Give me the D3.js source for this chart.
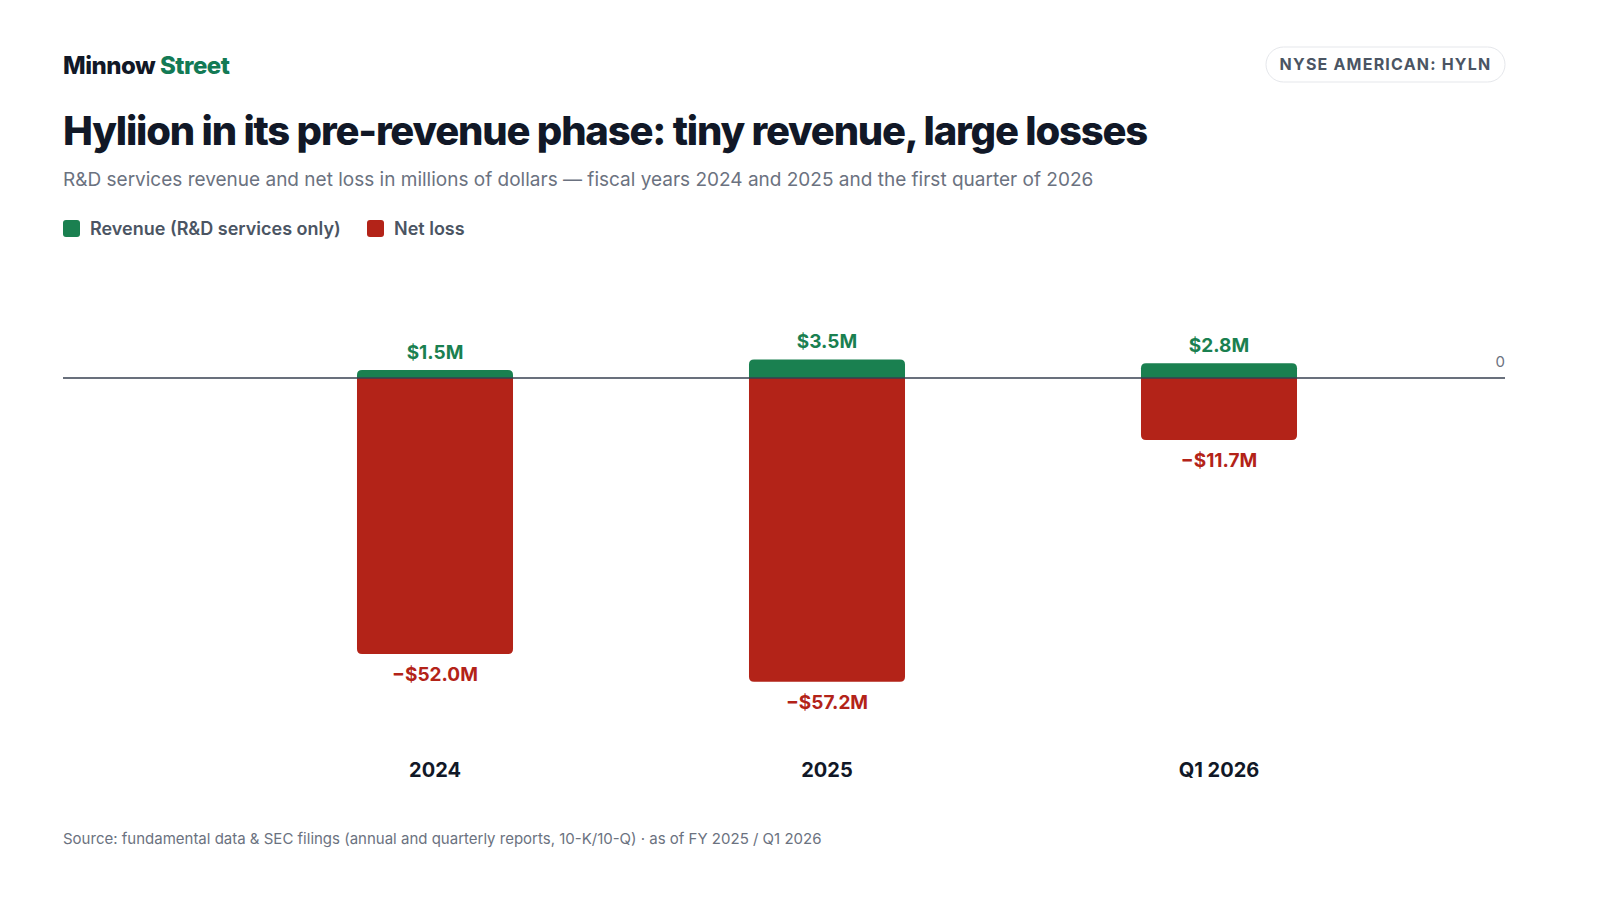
<!DOCTYPE html>
<html><head><meta charset="utf-8">
<script src="https://cdn.jsdelivr.net/npm/d3@7"></script>
<style>body{margin:0;background:#fff;font-family:Inter,"Noto Sans",sans-serif;}</style>
</head><body><div id="chart"></div>
<script>
const categories = ["2024", "2025", "Q1 2026"];
const revenue = [1.5, 3.5, 2.8];
const netLoss = [-52.0, -57.2, -11.7];
const revenueLabels = ["$1.5M", "$3.5M", "$2.8M"];
const lossLabels = ["\u2212$52.0M", "\u2212$57.2M", "\u2212$11.7M"];

const green = "#1a8050", red = "#b32318", ink = "#111827", gray = "#6b7280";
const svg = d3.select("#chart").append("svg").attr("width", 1600).attr("height", 900);

svg.append("text").attr("x", 63).attr("y", 74).attr("font-size", 24).attr("font-weight", 800)
  .attr("letter-spacing", -0.5).attr("fill", ink)
  .text("Minnow ").append("tspan").attr("fill", "#137a55").text("Street");

svg.append("rect").attr("x", 1266).attr("y", 47).attr("width", 239).attr("height", 35).attr("rx", 17.5)
  .attr("fill", "#fff").attr("stroke", "#e5e7eb");
svg.append("text").attr("x", 1385.5).attr("y", 70).attr("text-anchor", "middle").attr("font-size", 16)
  .attr("font-weight", 700).attr("letter-spacing", 1.2).attr("fill", "#4b5563").text("NYSE AMERICAN: HYLN");

svg.append("text").attr("x", 63).attr("y", 145).attr("font-size", 40).attr("font-weight", 800)
  .attr("letter-spacing", -1.2).attr("fill", ink).text("Hyliion in its pre-revenue phase: tiny revenue, large losses");
svg.append("text").attr("x", 63).attr("y", 186).attr("font-size", 19).attr("fill", gray)
  .text("R&D services revenue and net loss in millions of dollars \u2014 fiscal years 2024 and 2025 and the first quarter of 2026");

const legend = [["Revenue (R&D services only)", green, 63], ["Net loss", red, 367]];
legend.forEach(([t, c, x]) => {
  svg.append("rect").attr("x", x).attr("y", 220).attr("width", 17).attr("height", 17).attr("rx", 3).attr("fill", c);
  svg.append("text").attr("x", x + 27).attr("y", 235).attr("font-size", 18).attr("font-weight", 600)
    .attr("fill", "#4b5563").text(t);
});

const x = d3.scaleBand().domain(categories).range([239, 1415]).paddingInner(0.602).paddingOuter(0.301);
const y = d3.scaleLinear().domain([0, -60]).range([378, 378 + 318.5]);
const r = 5;

function roundedBar(x0, w, y0, y1) { // rounded at y1 end
  const dir = y1 < y0 ? 1 : -1;
  return `M${x0},${y0}L${x0},${y1 + dir * r}Q${x0},${y1} ${x0 + r},${y1}L${x0 + w - r},${y1}Q${x0 + w},${y1} ${x0 + w},${y1 + dir * r}L${x0 + w},${y0}Z`;
}

const g = svg.append("g");
categories.forEach((c, i) => {
  const bx = x(c), w = x.bandwidth(), cx = bx + w / 2;
  g.append("path").attr("d", roundedBar(bx, w, y(0), y(revenue[i]))).attr("fill", green);
  g.append("path").attr("d", roundedBar(bx, w, y(0), y(netLoss[i]))).attr("fill", red);
  g.append("text").attr("x", cx).attr("y", y(revenue[i]) - 11).attr("text-anchor", "middle")
    .attr("font-size", 19).attr("font-weight", 700).attr("fill", green).text(revenueLabels[i]);
  g.append("text").attr("x", cx).attr("y", y(netLoss[i]) + 27).attr("text-anchor", "middle")
    .attr("font-size", 19).attr("font-weight", 700).attr("fill", red).text(lossLabels[i]);
  g.append("text").attr("x", cx).attr("y", 777).attr("text-anchor", "middle")
    .attr("font-size", 20).attr("font-weight", 700).attr("fill", ink).text(c);
});

svg.append("line").attr("x1", 63).attr("x2", 1505).attr("y1", y(0)).attr("y2", y(0))
  .attr("stroke", "#374151").attr("stroke-width", 1.5);
svg.append("text").attr("x", 1505).attr("y", y(0) - 11).attr("text-anchor", "end")
  .attr("font-size", 15).attr("fill", gray).text("0");

svg.append("text").attr("x", 63).attr("y", 844).attr("font-size", 15).attr("fill", gray)
  .text("Source: fundamental data & SEC filings (annual and quarterly reports, 10-K/10-Q) \u00b7 as of FY 2025 / Q1 2026");
</script></body></html>
